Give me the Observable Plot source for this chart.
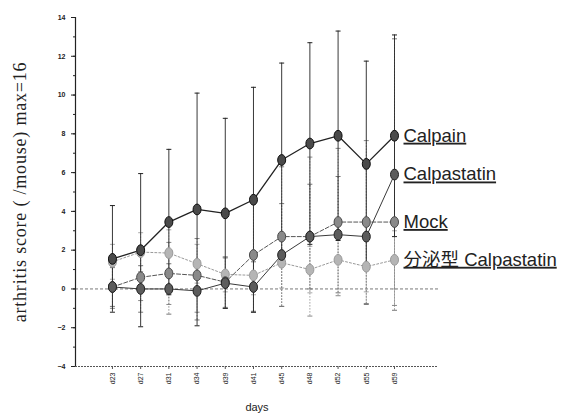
<!DOCTYPE html>
<html>
<head>
<meta charset="utf-8">
<script src="https://cdn.jsdelivr.net/npm/d3@7"></script>
<script src="https://cdn.jsdelivr.net/npm/@observablehq/plot@0.6"></script>
<style>
  html, body { margin: 0; padding: 0; background: #fff; }
  #chart svg { display: block; }
  g[aria-label="text"] text { text-decoration: underline dotted #777; }
</style>
</head>
<body>
<div id="chart"></div>
<script>
// ---- data ----
const days = ["d23", "d27", "d31", "d34", "d39", "d41", "d45", "d48", "d52", "d55", "d59"];
const seriesNames = ["Calpain", "Calpastatin", "Mock", "分泌型 Calpastatin"];
const calpain        = [1.55, 2.0, 3.45, 4.1, 3.9, 4.6, 6.65, 7.5, 7.9, 6.45, 7.9];
const calpainErr     = [2.75, 3.95, 3.75, 6.0, 4.9, 5.8, 5.0, 5.2, 5.4, 5.3, 5.2];
const calpastatin    = [0.1, 0.0, 0.0, -0.1, 0.3, 0.1, 1.75, 2.7, 2.8, 2.7, 5.9];
const calpastatinErr = [1.0, 1.2, 1.3, 1.5, 1.3, 1.3, 2.65, 2.7, 3.0, 3.5, 7.0];
const mock           = [0.1, 0.6, 0.8, 0.7, 0.35, 1.75, 2.7, 2.7, 3.45, 3.45, 3.45];
const mockErr        = [1.1, 1.2, 1.6, 1.9, 1.3, 2.9, 3.6, 4.1, 3.8, 4.2, 4.3];
const secreted       = [1.4, 1.9, 1.85, 1.3, 0.75, 0.7, 1.35, 1.0, 1.5, 1.15, 1.5];
const secretedErr    = [0.9, 1.0, 1.2, 1.0, 0.9, 1.0, 1.3, 1.2, 1.5, 1.3, 1.5];
const yMajorTicks = [-4, -2, 0, 2, 4, 6, 8, 10, 12, 14];
const yMinorTicks = d3.range(-4, 15, 1);

const values = [calpain, calpastatin, mock, secreted];
const errs = [calpainErr, calpastatinErr, mockErr, secretedErr];

// ---- scales & styles ----
const xDomain = [-1.31, 11.56];
const yDomain = [-4, 14];
const styles = [
  {fill: "#4a4a4a", stroke: "#111", line: "#222", dash: null, lw: 1.3, err: "#222", errDash: null, errW: 0.9},
  {fill: "#5c5c5c", stroke: "#222", line: "#3a3a3a", dash: null, lw: 1.0, err: "#777", errDash: "1.5,1.5", errW: 0.8},
  {fill: "#8a8a8a", stroke: "#4a4a4a", line: "#555", dash: "4,2", lw: 1.0, err: "#888", errDash: "1.5,1.5", errW: 0.8},
  {fill: "#b5b5b5", stroke: "#9a9a9a", line: "#999", dash: "2,2", lw: 1.0, err: "#aaa", errDash: "1.5,1.5", errW: 0.8}
];

const rows = seriesNames.map((name, s) =>
  days.map((d, i) => ({series: name, s, i, day: d, value: values[s][i], err: errs[s][i]}))
);

const ellipse = {
  draw(ctx) {
    const rx = 4.0, ry = 5.4, k = 0.5523;
    ctx.moveTo(rx, 0);
    ctx.bezierCurveTo(rx, ry * k, rx * k, ry, 0, ry);
    ctx.bezierCurveTo(-rx * k, ry, -rx, ry * k, -rx, 0);
    ctx.bezierCurveTo(-rx, -ry * k, -rx * k, -ry, 0, -ry);
    ctx.bezierCurveTo(rx * k, -ry, rx, -ry * k, rx, 0);
    ctx.closePath();
  }
};
const cap = {
  draw(ctx) { ctx.moveTo(-2.5, 0); ctx.lineTo(2.5, 0); }
};

const marks = [];
marks.push(Plot.ruleY([0], {stroke: "#555", strokeDasharray: "3,2", strokeWidth: 0.8}));
// error bars (draw light ones first)
for (let s = 3; s >= 0; s--) {
  const st = styles[s];
  marks.push(Plot.ruleX(rows[s], {x: "i", y1: d => d.value - d.err, y2: d => d.value + d.err,
    stroke: st.err, strokeWidth: st.errW, strokeDasharray: st.errDash}));
  marks.push(Plot.dot(rows[s], {x: "i", y: d => d.value + d.err, symbol: cap, stroke: st.err, strokeWidth: 1}));
  marks.push(Plot.dot(rows[s], {x: "i", y: d => d.value - d.err, symbol: cap, stroke: st.err, strokeWidth: 1}));
}
for (let s = 3; s >= 0; s--) {
  const st = styles[s];
  marks.push(Plot.line(rows[s], {x: "i", y: "value", stroke: st.line, strokeWidth: st.lw, strokeDasharray: st.dash}));
}
for (let s = 3; s >= 0; s--) {
  const st = styles[s];
  marks.push(Plot.dot(rows[s], {x: "i", y: "value", symbol: ellipse, fill: st.fill, stroke: st.stroke, strokeWidth: 1}));
}
// series labels at the last point
const lastRows = rows.map(r => r[r.length - 1]);
marks.push(Plot.text(lastRows, {x: "i", y: "value", text: "series", dx: 9, textAnchor: "start",
  fontSize: 18.5, fill: "#222", fontFamily: "Liberation Sans, Arial, 'Noto Sans CJK JP', sans-serif"}));

// axis lines
marks.push(Plot.ruleX([xDomain[0]], {y1: yDomain[0], y2: yDomain[1], stroke: "#222", strokeWidth: 1.2}));
marks.push(Plot.ruleY([yDomain[0]], {stroke: "#555", strokeWidth: 1, strokeDasharray: "2,1"}));
// axes
marks.push(Plot.axisY({ticks: yMinorTicks, tickSize: 2, tickFormat: () => "", label: null}));
marks.push(Plot.axisY({ticks: yMajorTicks, tickSize: 4, tickPadding: 6, fontWeight: "bold",
  label: "arthritis score ( /mouse) max=16", labelAnchor: "center", labelOffset: 62}));
marks.push(Plot.axisX({ticks: d3.range(days.length), tickFormat: i => days[i], tickRotate: -90, tickSize: 3,
  tickPadding: 3, label: "days", labelAnchor: "center", labelOffset: 44, stroke: "#555"}));

const chart = Plot.plot({
  width: 576,
  height: 418,
  marginLeft: 75,
  marginRight: 138,
  marginTop: 17,
  marginBottom: 52,
  x: {domain: xDomain},
  y: {domain: yDomain},
  style: {fontFamily: "Liberation Sans, Arial, sans-serif", fontSize: "7px", color: "#222", background: "#fff"},
  marks
});
document.getElementById("chart").appendChild(chart);

// style axis labels, drop arrows
d3.select(chart).selectAll('g[aria-label="y-axis label"] text, g[aria-label="x-axis label"] text')
  .each(function() {
    const t = d3.select(this);
    const tspans = t.selectAll("tspan");
    if (tspans.size()) tspans.each(function() { this.textContent = this.textContent.replace(/\s*[↑↓→←]\s*/g, ""); });
    else this.textContent = this.textContent.replace(/\s*[↑↓→←]\s*/g, "");
  });
d3.select(chart).selectAll('g[aria-label="y-axis label"] text')
  .style("font-family", "'Liberation Serif', 'Times New Roman', serif").style("font-size", "18px")
  .style("letter-spacing", "0.8px").style("font-weight", "normal");
d3.select(chart).selectAll('g[aria-label="x-axis label"] text')
  .style("font-size", "11px");
</script>
</body>
</html>
